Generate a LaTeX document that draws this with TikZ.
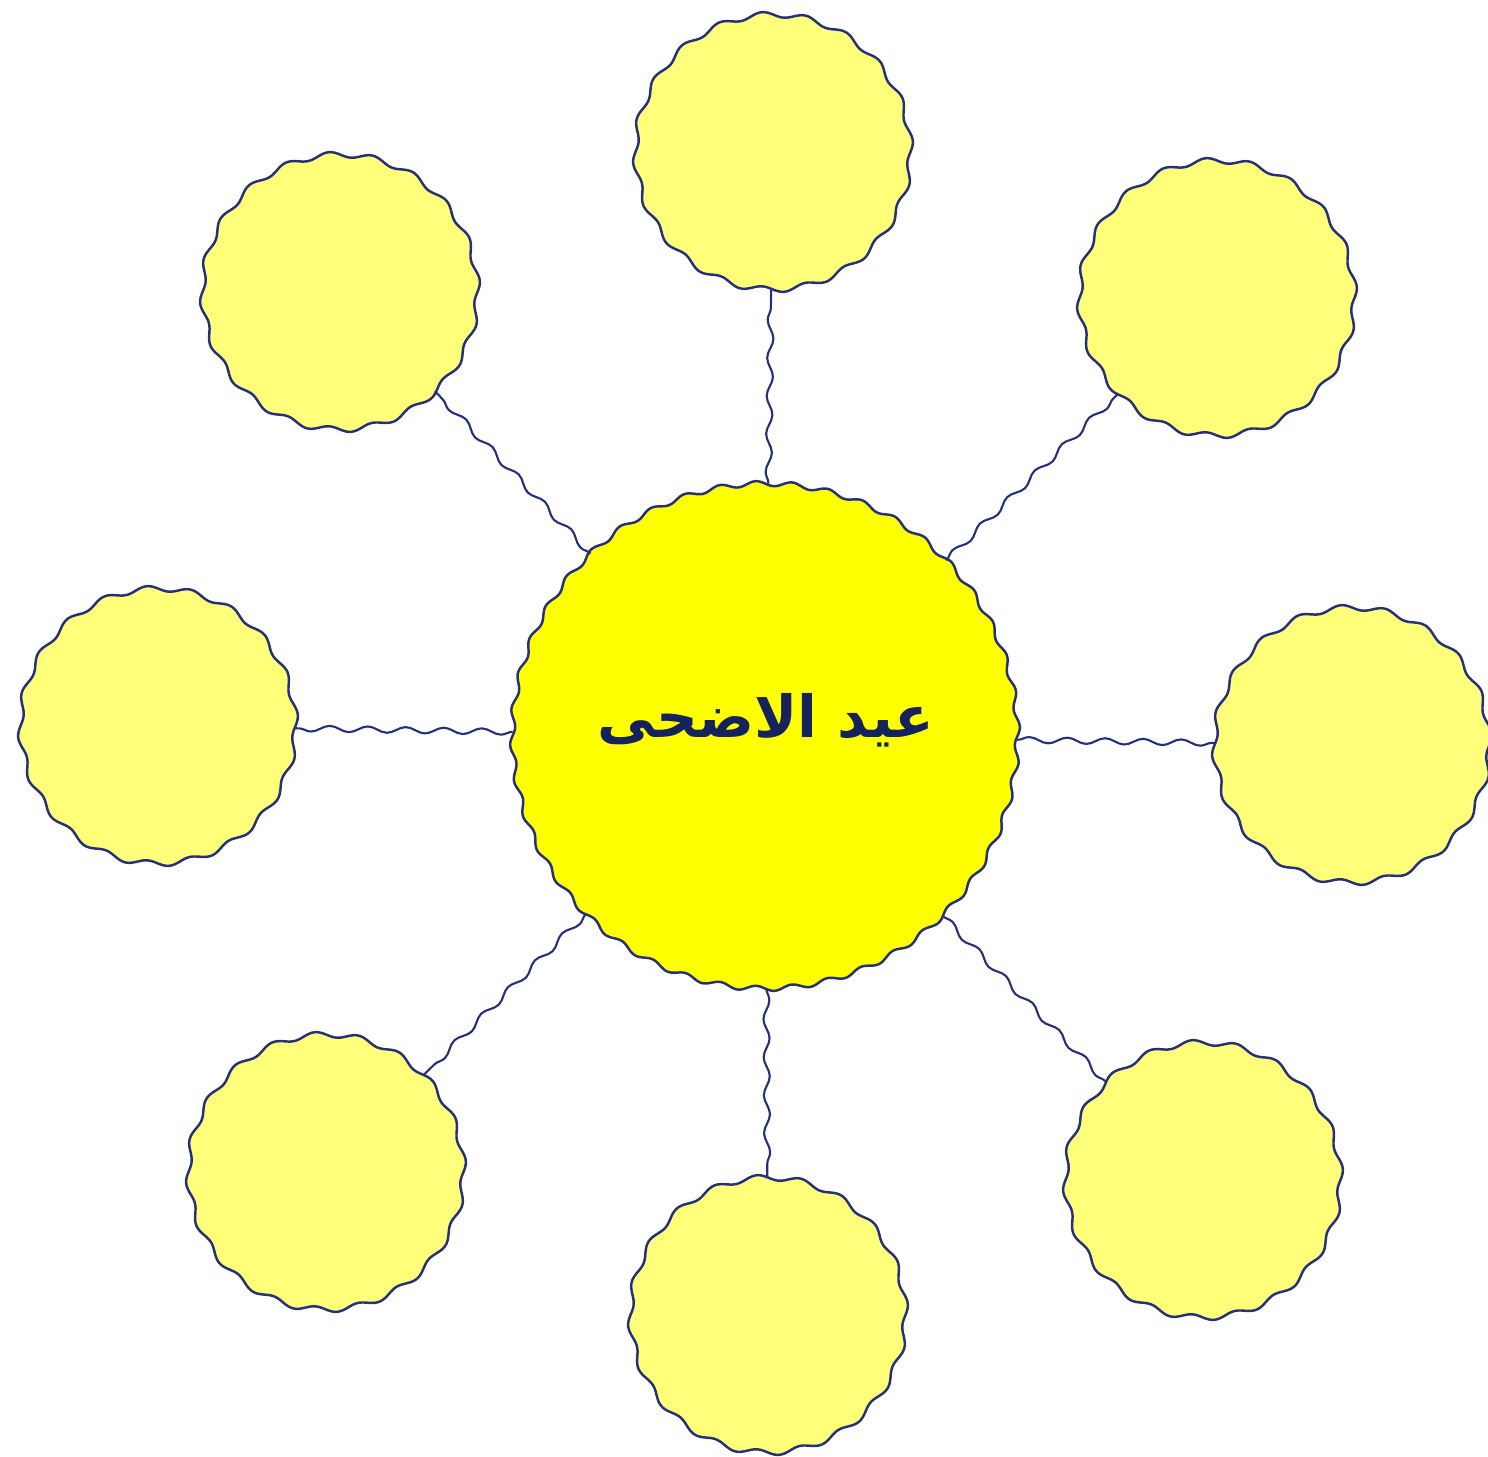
\documentclass[tikz,border=0pt]{standalone}
\usepackage{fontspec}
\newfontfamily\arabicfont[Script=Arabic]{DejaVu Sans}
\TeXXeTstate=1
\usetikzlibrary{decorations.pathmorphing}
\definecolor{wavyblue}{RGB}{38,48,120}
\definecolor{hubyellow}{RGB}{255,255,0}
\definecolor{leafyellow}{RGB}{255,255,122}
\definecolor{titleblue}{RGB}{22,34,92}

\begin{document}
\begin{tikzpicture}[
  hub/.style={circle, inner sep=0pt, minimum size=10.08cm},
  leaf/.style={circle, inner sep=0pt, minimum size=5.48cm},
  hubwave/.style={draw=wavyblue, line width=1.4pt, fill=hubyellow, line join=round},
  leafwave/.style={draw=wavyblue, line width=1.4pt, fill=leafyellow, line join=round},
  link/.style={draw=wavyblue, line width=1.2pt, decorate,
               decoration={snake, segment length=7.6mm, amplitude=0.6mm}},
  title/.style={font=\arabicfont\bfseries\fontsize{33}{38}\selectfont, text=titleblue},
]
\useasboundingbox (0,0) rectangle (29.76,-29.12);

% Nodes
\node[hub] (eid) at (15.30,-14.72) {};
\foreach \name/\pos in {top/{(15.46,-3.04)}, topleft/{(6.80,-5.84)}, topright/{(24.34,-5.96)},
                        left/{(3.16,-14.52)}, right/{(27.04,-14.90)}, botleft/{(6.52,-23.44)},
                        bottom/{(15.36,-26.30)}, botright/{(24.06,-23.60)}}
  \node[leaf] (\name) at \pos {};

% Wavy outlines
\filldraw[hubwave, shift={(eid.center)}] plot[domain=0:360, samples=881, variable=\t]
  ({(5.05+0.05*sin(44*\t))*cos(\t)}, {(5.05+0.05*sin(44*\t))*sin(\t)}) -- cycle;
\foreach \name in {top, topleft, topright, left, right, botleft, bottom, botright}
  \filldraw[leafwave, shift={(\name.center)}] plot[domain=0:360, samples=401, variable=\t]
    ({(2.75+0.055*sin(20*\t))*cos(\t)}, {(2.75+0.055*sin(20*\t))*sin(\t)}) -- cycle;

\node[title] at (15.32,-14.40) {\beginR عيد الاضحى\endR};

% Links
\draw[link] (eid) -- (top);
\draw[link] (eid) -- (topleft);
\draw[link] (eid) -- (topright);
\draw[link] (eid) -- (left);
\draw[link] (eid) -- (right);
\draw[link] (eid) -- (botleft);
\draw[link] (eid) -- (bottom);
\draw[link] (eid) -- (botright);

\end{tikzpicture}
\end{document}
